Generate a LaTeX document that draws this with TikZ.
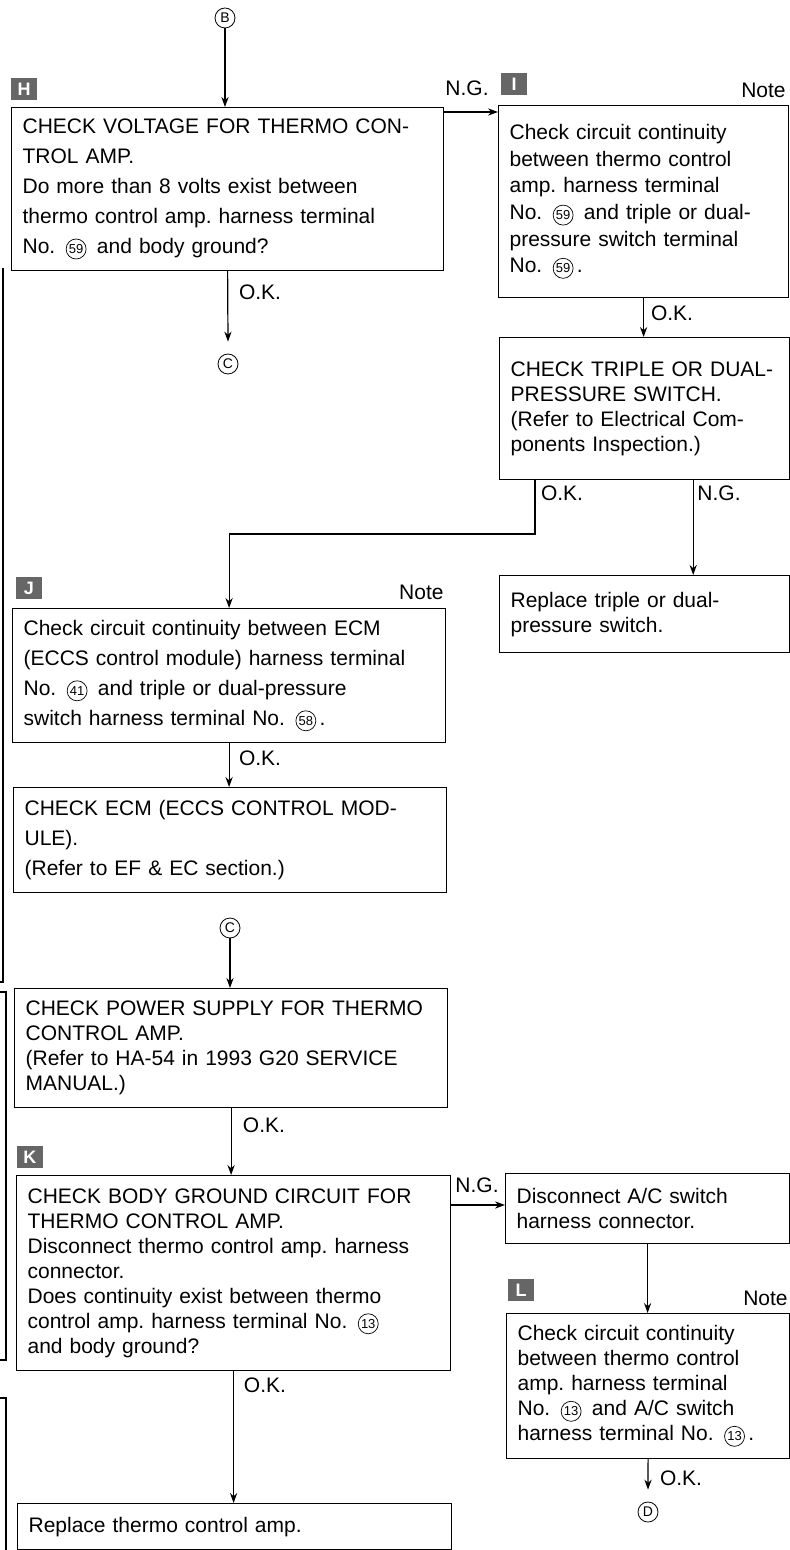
\documentclass[tikz,border=0pt]{standalone}
\usepackage{fontspec}
\setmainfont{Liberation Sans}
\usetikzlibrary{positioning,arrows.meta,calc}
\frenchspacing

\newcommand{\cnum}[1]{\,\tikz[baseline=(cn.base)]\node[draw, circle, inner sep=0pt, minimum size=10pt,
    line width=0.35pt, font=\fontsize{6.5}{6.5}\selectfont] (cn) {#1};\,}

\begin{document}
\begin{tikzpicture}[x=0.5pt, y=-0.5pt,
    box/.style={draw, line width=0.6pt, anchor=north west, align=left, inner xsep=5.5pt,
                inner ysep=3pt, font=\fontsize{10.5}{12.5}\selectfont},
    wide/.style={font=\fontsize{10.5}{15}\selectfont},
    mid/.style={font=\fontsize{10.5}{13.3}\selectfont},
    tag/.style={fill=black!60, text=white, font=\bfseries\fontsize{9}{9}\selectfont,
                minimum width=13pt, minimum height=11pt, inner sep=0pt},
    conn/.style={draw, circle, inner sep=0pt, minimum size=10pt, line width=0.4pt,
                 font=\fontsize{7}{7}\selectfont},
    lbl/.style={font=\fontsize{10.5}{12}\selectfont, inner sep=1pt},
    arr/.style={-{Stealth[length=5pt, width=3.6pt]}, line width=0.6pt},
    frag/.style={line width=0.6pt},
]
\useasboundingbox (0,0) rectangle (790,1550);

% ===== Left column =====
\node[conn] (cB) at (225,18) {B};
\node[tag] (tH) at (24,89) {H};
\node[box, wide, minimum width=216pt, minimum height=81.5pt, text width=205pt]
    (H) at (11,107) {CHECK VOLTAGE FOR THERMO CON-\\TROL AMP.\\Do more than 8 volts exist between\\thermo control amp. harness terminal\\No. \cnum{59} and body ground?};
\node[conn] (cC) at (228,364) {C};

\node[tag] (tJ) at (29,588) {J};
\node[lbl, anchor=east] (nJ) at (446,592) {Note};
\node[box, wide, minimum width=216.5pt, minimum height=67pt, text width=205.5pt]
    (J) at (12,608) {Check circuit continuity between ECM\\(ECCS control module) harness terminal\\No. \cnum{41} and triple or dual-pressure\\switch harness terminal No. \cnum{58}.};
\node[box, wide, minimum width=216.5pt, minimum height=52.5pt, text width=205.5pt]
    (ecm) at (13,787) {CHECK ECM (ECCS CONTROL MOD-\\ULE).\\(Refer to EF \& EC section.)};

\node[conn] (cC2) at (230,928) {C};
\node[box, minimum width=216.5pt, minimum height=59.5pt, text width=205.5pt]
    (ps) at (14,988) {CHECK POWER SUPPLY FOR THERMO\\CONTROL AMP.\\(Refer to HA-54 in 1993 G20 SERVICE\\MANUAL.)};

\node[tag] (tK) at (30,1157) {K};
\node[box, minimum width=217pt, minimum height=97.5pt, text width=206pt]
    (K) at (16,1175) {CHECK BODY GROUND CIRCUIT FOR\\THERMO CONTROL AMP.\\Disconnect thermo control amp. harness\\connector.\\Does continuity exist between thermo\\control amp. harness terminal No. \cnum{13}\\and body ground?};
\node[box, minimum width=217pt, minimum height=23pt, text width=206pt]
    (ra) at (17,1503) {Replace thermo control amp.};

% ===== Right column =====
\node[tag] (tI) at (514,84) {I};
\node[lbl, anchor=east] (nI) at (788,90) {Note};
\node[box, mid, minimum width=145pt, minimum height=96pt, text width=134pt]
    (I) at (498,105) {Check circuit continuity\\between thermo control\\amp. harness terminal\\No. \cnum{59} and triple or dual-\\pressure switch terminal\\No. \cnum{59}.};
\node[box, minimum width=145pt, minimum height=71pt, text width=134pt]
    (tp) at (499,337) {CHECK TRIPLE OR DUAL-\\PRESSURE SWITCH.\\(Refer to Electrical Com-\\ponents Inspection.)};
\node[box, minimum width=145pt, minimum height=38.5pt, text width=134pt]
    (rt) at (499,575) {Replace triple or dual-\\pressure switch.};

\node[box, minimum width=142pt, minimum height=35pt, text width=131pt]
    (dc) at (505,1173) {Disconnect A/C switch\\harness connector.};
\node[tag] (tL) at (521,1290) {L};
\node[lbl, anchor=east] (nL) at (790,1298) {Note};
\node[box, minimum width=141.5pt, minimum height=72.5pt, text width=130.5pt]
    (L) at (506,1313) {Check circuit continuity\\between thermo control\\amp. harness terminal\\No. \cnum{13} and A/C switch\\harness terminal No. \cnum{13}.};
\node[conn] (cD) at (648,1512) {D};

% ===== Branch labels =====
\node[lbl] (ngH) at (467,88) {N.G.};
\node[lbl] (okH) at (260,292) {O.K.};
\node[lbl] (okI) at (672,313) {O.K.};
\node[lbl] (okT) at (562,493) {O.K.};
\node[lbl] (ngT) at (719,493) {N.G.};
\node[lbl] (okJ) at (260,758) {O.K.};
\node[lbl] (okP) at (264,1125) {O.K.};
\node[lbl] (ngK) at (477,1185) {N.G.};
\node[lbl] (okK) at (265,1385) {O.K.};
\node[lbl] (okL) at (681,1478) {O.K.};

% ===== Connectors =====
\coordinate (ngHs) at ([yshift=-2.5pt]H.north east);
\coordinate (ngKs) at ([yshift=-15pt]K.north east);
\coordinate (ngTs) at ([xshift=-48.5pt]tp.south east);
\coordinate (okTs) at ([xshift=18pt]tp.south west);
\coordinate (bT) at (535,534);

\draw[arr] (cB) -- (cB |- H.north);
\draw[arr] (ngHs) -- (ngHs -| I.west);
\draw[arr] (H.south) -- ([yshift=6pt]cC.north);
\draw[arr] (I.south) -- (I.south |- tp.north);
\draw[arr] (okTs) -- (bT) -| (J.north);
\draw[arr] (ngTs) -- (ngTs |- rt.north);
\draw[arr] (J.south) -- (J.south |- ecm.north);
\draw[arr] (cC2) -- (cC2 |- ps.north);
\draw[arr] (ps.south) -- (ps.south |- K.north);
\draw[arr] (ngKs) -- (ngKs -| dc.west);
\draw[arr] (K.south) -- (K.south |- ra.north);
\draw[arr] (dc.south) -- (dc.south |- L.north);
\draw[arr] (L.south) -- ([yshift=6pt]cD.north);

% ===== Edges of the neighbouring page =====
\draw[frag] (3,268) -- (3,982) -- (0,982);
\draw[frag] (0,992) -- (6,992) -- (6,1360) -- (0,1360);
\draw[frag] (0,1398) -- (6,1398) -- (6,1550);

\end{tikzpicture}
\end{document}
